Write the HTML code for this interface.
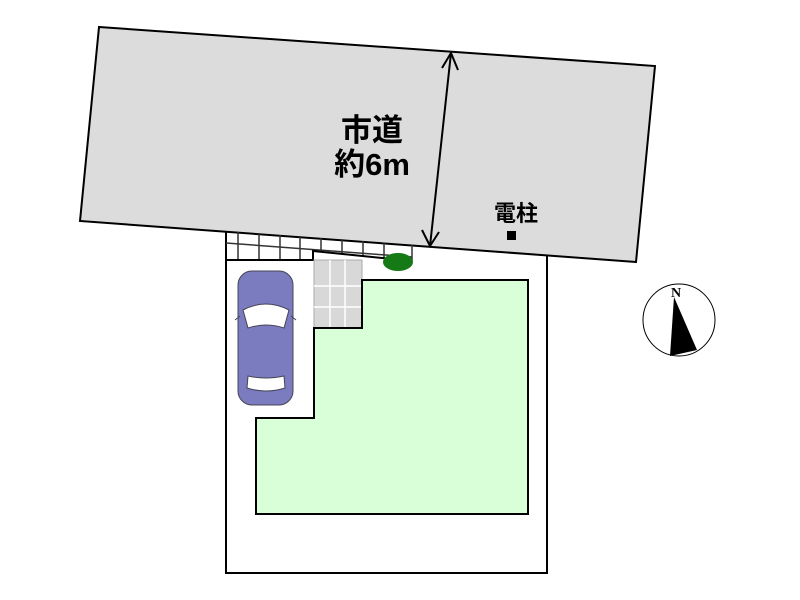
<!DOCTYPE html>
<html><head><meta charset="utf-8"><style>body{margin:0;background:#fff}svg{display:block}</style></head><body>
<svg width="800" height="600" viewBox="0 0 800 600" xmlns="http://www.w3.org/2000/svg">
<rect width="800" height="600" fill="#fff"/>
<polygon points="99,27 655,66 636,262 80,221" fill="#dcdcdc" stroke="#000" stroke-width="2"/>
<polyline points="226,231 226,573 547,573 547,255" fill="none" stroke="#000" stroke-width="2"/>
<g stroke="#333" stroke-width="1.5">
<line x1="226" y1="243" x2="412" y2="257"/>
<line x1="238" y1="232" x2="238" y2="260"/>
<line x1="259" y1="234" x2="259" y2="260"/>
<line x1="280" y1="235" x2="280" y2="260"/>
<line x1="300" y1="237" x2="300" y2="260"/>
<line x1="321" y1="238" x2="321" y2="252"/>
<line x1="342" y1="240" x2="342" y2="254"/>
<line x1="363" y1="241" x2="363" y2="256"/>
<line x1="384" y1="243" x2="384" y2="258"/>
<line x1="412" y1="245" x2="412" y2="262"/>
</g>
<polyline points="226,260 313,260 313,251 412,261" fill="none" stroke="#000" stroke-width="2"/>
<rect x="314" y="260" width="48" height="68" fill="#d8d8d8" stroke="#aaa"/>
<g stroke="#fff" stroke-width="1.5"><line x1="330" y1="260" x2="330" y2="328"/><line x1="345" y1="260" x2="345" y2="328"/><line x1="314" y1="286" x2="362" y2="286"/><line x1="314" y1="307" x2="362" y2="307"/></g>
<polygon points="362,280 528,280 528,514 256,514 256,418 314,418 314,328 362,328" fill="#d8ffd8" stroke="#000" stroke-width="2"/>
<ellipse cx="398" cy="262" rx="15" ry="9" fill="#157a15"/>
<g stroke="#445" stroke-width="1">
<rect x="238" y="271" width="55" height="134" rx="14" fill="#7b7bbf"/>
<path d="M243 310 Q266 298 289 310 L284 328 Q266 322 248 328 Z" fill="#fff"/>
<path d="M248 376 Q266 380 284 376 L285 388 Q266 394 247 388 Z" fill="#fff"/>
<line x1="235" y1="320" x2="240" y2="316"/><line x1="296" y1="320" x2="291" y2="316"/>
</g>
<g stroke="#000" stroke-width="2" fill="none">
<line x1="451" y1="53" x2="430" y2="246"/>
<polyline points="442,68 451,53 458,70"/>
<polyline points="422,230 430,246 439,232"/>
</g>
<text x="372" y="141" font-family="Liberation Sans, Noto Sans CJK JP, sans-serif" font-size="31" font-weight="bold" text-anchor="middle">市道</text>
<text x="372" y="175" font-family="Liberation Sans, Noto Sans CJK JP, sans-serif" font-size="31" font-weight="bold" text-anchor="middle">約6m</text>
<text x="516" y="221" font-family="Liberation Sans, Noto Sans CJK JP, sans-serif" font-size="22" font-weight="bold" text-anchor="middle">電柱</text>
<rect x="507" y="231" width="9" height="9" fill="#000"/>
<circle cx="679" cy="320" r="36" fill="#fff" stroke="#000" stroke-width="1"/>
<polygon points="674,297 697,350 670,356" fill="#000"/>
<text x="676" y="297" font-family="Liberation Serif, serif" font-size="14" font-weight="bold" text-anchor="middle">N</text>
</svg>
</body></html>
